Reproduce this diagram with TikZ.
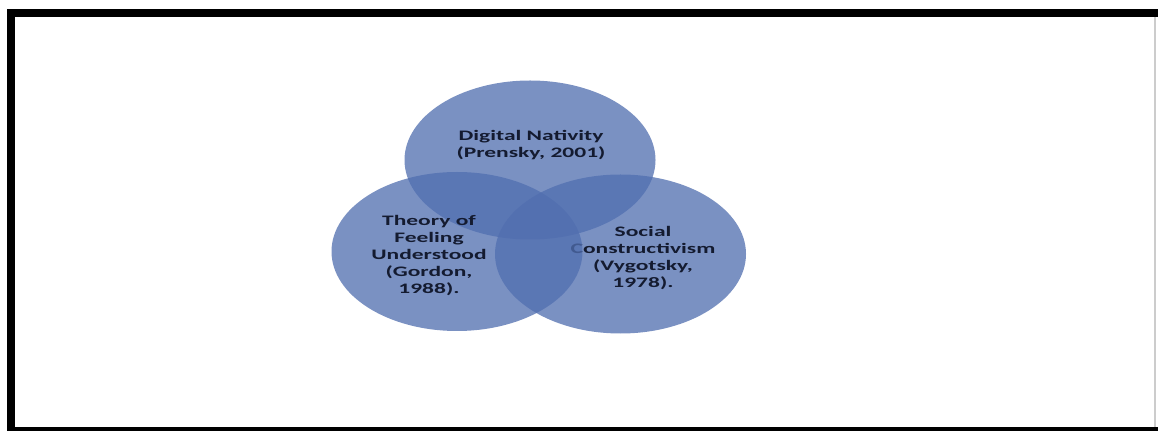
\documentclass[tikz,border=0pt]{standalone}
\usepackage{fontspec}
\usepackage{tikz}
\usepackage{xcolor}
\usetikzlibrary{shapes.geometric}

\newfontfamily\vennfont[FakeStretch=1.62]{Carlito}
\definecolor{vennblue}{RGB}{80,110,175}
\definecolor{venntext}{RGB}{20,27,48}

\begin{document}
\begin{tikzpicture}[x=1pt, y=1pt,
        set/.style={ellipse, fill=vennblue, fill opacity=0.76, inner sep=0pt, minimum width=251pt, minimum height=159pt},
        setlabel/.style={text=venntext, align=center, inner sep=0pt, font=\vennfont\bfseries\fontsize{14.5}{17}\selectfont}]
                \useasboundingbox (0, 0) rectangle (1158, 431);
                % frame round the page
                \fill[black] (7, 414) rectangle (1158, 422);
                \fill[black] (7, 0) rectangle (15, 422);
                \fill[black] (7, 0) rectangle (1158, 4);
                \fill[gray!40] (1154, 4) rectangle (1156, 414);

                % the three sets, each with its label
                \node[set] (dn) at (530, 271) {};
                \node[set] (sc) at (620.5, 177) {};
                \node[setlabel] (scl) at (643, 173) {Social\\Constructivism\\(Vygotsky,\\1978).};
                \node[set] (tfu) at (457, 179.5) {};
                \node[setlabel] (tful) at (429, 175) {Theory of\\Feeling\\Understood\\(Gordon,\\1988).};
                \node[setlabel] (dnl) at (531, 286) {Digital Nativity\\(Prensky, 2001)};
            \end{tikzpicture}
\end{document}
